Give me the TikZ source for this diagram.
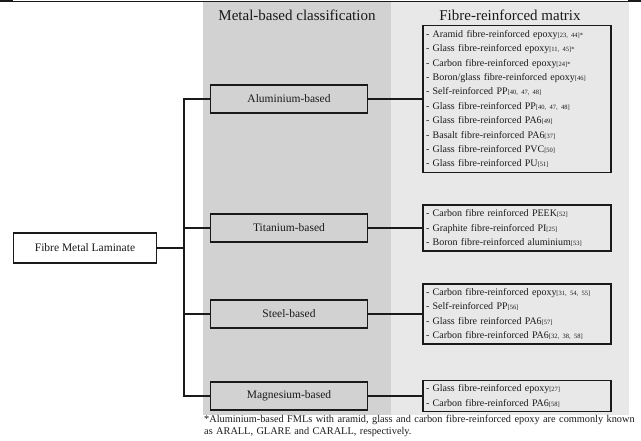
\documentclass[tikz,border=0pt]{standalone}
\usepackage{fontspec}
\setmainfont{Liberation Serif}
\usetikzlibrary{positioning}
\definecolor{metalpanel}{HTML}{D2D2D2}
\definecolor{matrixpanel}{HTML}{E8E8E8}
\definecolor{ink}{HTML}{1A1A1A}
\newcommand{\rf}[1]{{\fontsize{6.5}{8}\selectfont[#1]}}
\newcommand{\rfs}[1]{{\fontsize{6.5}{8}\selectfont[#1]*}}
\tikzset{
  every node/.style={text=ink},
  head/.style={font=\fontsize{15}{17}\selectfont,inner sep=0pt},
  metalbox/.style={draw=ink,line width=1.5pt,fill=metalpanel,minimum width=157pt,minimum height=28pt,
    font=\fontsize{11.5}{13}\selectfont,inner sep=2pt},
  rootbox/.style={metalbox,fill=white,minimum width=143pt,minimum height=30pt},
  listbox/.style={draw=ink,line width=1.5pt,fill=matrixpanel,align=left,text width=182pt,
    inner xsep=3pt,inner ysep=4.5pt,font=\fontsize{10}{14.4}\selectfont},
  link/.style={draw=ink,line width=1.2pt},
  footnote/.style={anchor=north west,align=left,text width=440pt,inner sep=0pt,
    font=\fontsize{10.3}{12.5}\selectfont},
}

\begin{document}
\begin{tikzpicture}[x=1pt,y=-1pt]
  \useasboundingbox (0,0) rectangle (641,441);
  \fill[metalpanel] (203,2) rectangle (391,415);
  \fill[matrixpanel] (391,2) rectangle (629,415);
  \draw[ink,line width=0.6pt] (0,1) -- (641,1);
  \draw[ink,line width=2pt] (0,1) -- (13,1);
  \draw[ink,line width=2pt] (628,1.5) -- (641,1.5);

  \node[head] (metalhead) at (297,15) {Metal-based classification};
  \node[head] (matrixhead) at (510,15) {Fibre-reinforced matrix};

  \node[rootbox] (fml) at (85,248) {Fibre Metal Laminate};
  \node[metalbox] (al) at (289,99) {Aluminium-based};
  \node[metalbox] (ti) at (289,228) {Titanium-based};
  \node[metalbox] (st) at (289,314) {Steel-based};
  \node[metalbox] (mg) at (289,396) {Magnesium-based};
  \coordinate (split) at (184,248);

  \node[listbox,right=54pt of al] (allist) {
    - Aramid fibre-reinforced epoxy\rfs{23, 44}\\
    - Glass fibre-reinforced epoxy\rfs{11, 45}\\
    - Carbon fibre-reinforced epoxy\rfs{24}\\
    - Boron/glass fibre-reinforced epoxy\rf{46}\\
    - Self-reinforced PP\rf{40, 47, 48}\\
    - Glass fibre-reinforced PP\rf{40, 47, 48}\\
    - Glass fibre-reinforced PA6\rf{49}\\
    - Basalt fibre-reinforced PA6\rf{37}\\
    - Glass fibre-reinforced PVC\rf{50}\\
    - Glass fibre-reinforced PU\rf{51}};
  \node[listbox,right=54pt of ti] (tilist) {
    - Carbon fibre reinforced PEEK\rf{52}\\
    - Graphite fibre-reinforced PI\rf{25}\\
    - Boron fibre-reinforced aluminium\rf{53}};
  \node[listbox,right=54pt of st] (stlist) {
    - Carbon fibre-reinforced epoxy\rf{31, 54, 55}\\
    - Self-reinforced PP\rf{56}\\
    - Glass fibre reinforced PA6\rf{57}\\
    - Carbon fibre-reinforced PA6\rf{32, 38, 58}};
  \node[listbox,right=54pt of mg] (mglist) {
    - Glass fibre-reinforced epoxy\rf{27}\\
    - Carbon fibre-reinforced PA6\rf{58}};

  \draw[link] (fml) -- (split);
  \draw[link] (al.west) -| (split) |- (mg.west);
  \draw[link] (ti.west) -- (ti.west -| split);
  \draw[link] (st.west) -- (st.west -| split);
  \draw[link] (al) -- (allist);
  \draw[link] (ti) -- (tilist);
  \draw[link] (st) -- (stlist);
  \draw[link] (mg) -- (mglist);

  \node[footnote] (note) at (204,415) {*Aluminium-based FMLs with aramid, glass and carbon fibre-reinforced epoxy are commonly known\\as ARALL, GLARE and CARALL, respectively.};
\end{tikzpicture}
\end{document}
